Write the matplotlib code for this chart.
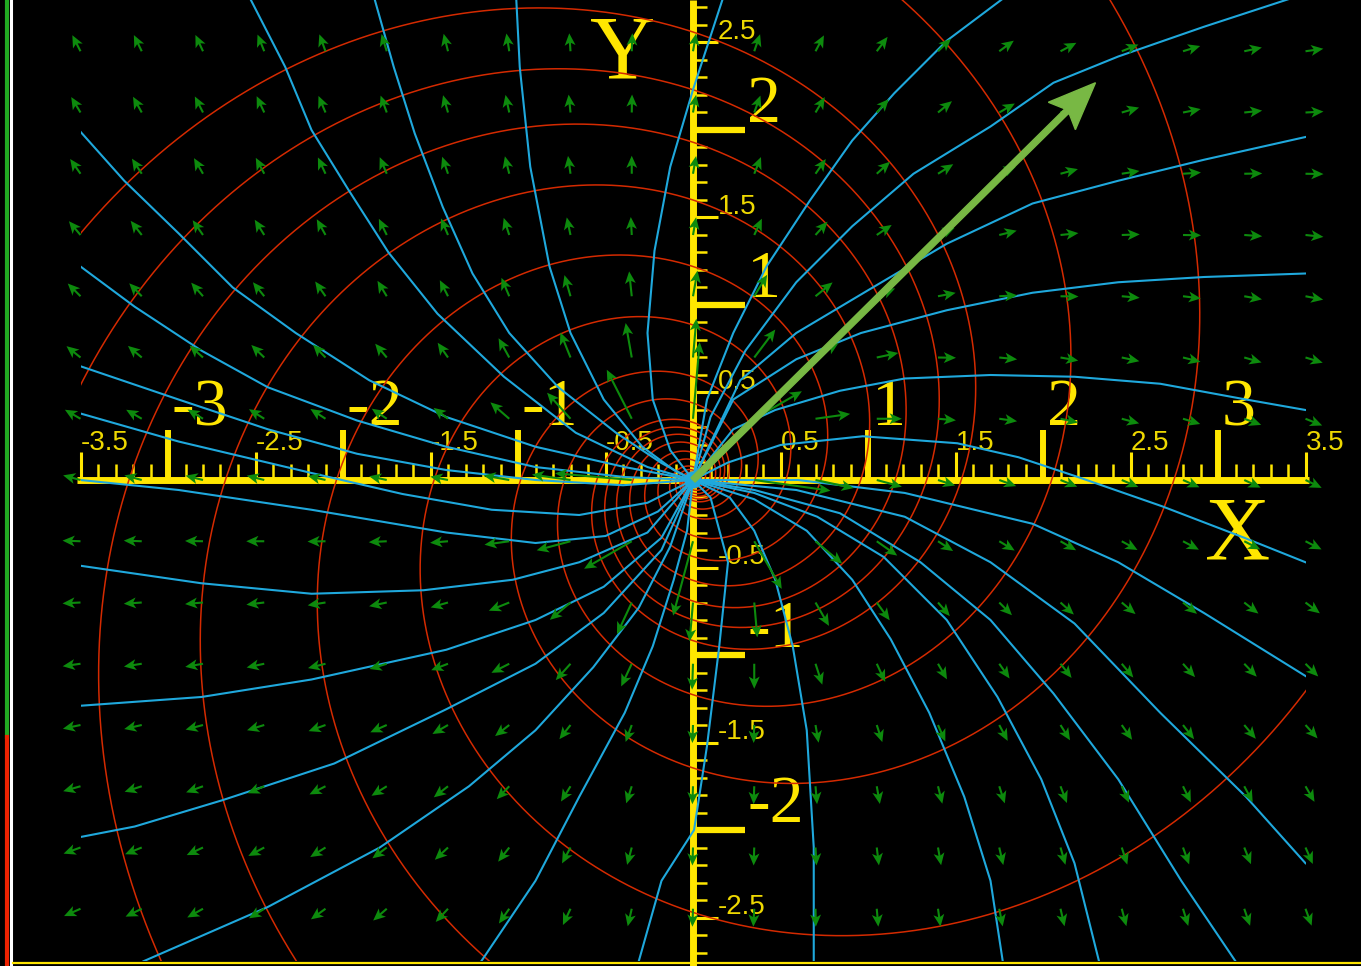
import numpy as np
import matplotlib.pyplot as plt
from matplotlib.patches import Rectangle, Circle

# screenshot geometry: 175 px per unit, origin at pixel (693, 480)
W, H = 1361, 966
PX = 175.0
OX, OY = 693, 480

# region covered by the field drawing
x_min, x_max = -3.5, 3.5
y_min, y_max = -2.75, 2.75

# red wavefronts: 8 log-spiral arms, radius where each arm crosses the +y axis
arm_r90 = [2.56, 2.23, 1.93, 1.60, 1.22, 0.886, 0.59, 0.44]
arm_growth = 1.67  # radius ratio per quarter turn

# cyan field lines, traced from the border in to the charge at the origin
field_lines = [
    [(-2.53, 2.75), (-2.33, 2.36), (-2.18, 2.0), (-1.97, 1.66), (-1.74, 1.30), (-1.46, 0.95), (-1.08, 0.59), (-0.67, 0.27), (-0.26, 0.074), (0, 0)],
    [(-1.82, 2.75), (-1.71, 2.36), (-1.59, 1.98), (-1.43, 1.56), (-1.26, 1.18), (-1.05, 0.84), (-0.77, 0.53), (-0.44, 0.27), (-0.18, 0.097), (0, 0)],
    [(-1.01, 2.75), (-0.99, 2.36), (-0.93, 1.79), (-0.82, 1.22), (-0.70, 0.84), (-0.51, 0.46), (-0.29, 0.19), (-0.11, 0.057), (0, 0)],
    [(0.17, 2.75), (0.0, 2.23), (-0.13, 1.79), (-0.22, 1.31), (-0.26, 0.84), (-0.23, 0.46), (-0.13, 0.17), (0, 0)],
    [(1.77, 2.75), (1.45, 2.51), (1.15, 2.21), (0.91, 1.94), (0.67, 1.60), (0.42, 1.22), (0.23, 0.84), (0.08, 0.46), (0, 0)],
    [(3.41, 2.75), (2.92, 2.59), (2.43, 2.42), (2.06, 2.27), (1.70, 2.02), (1.26, 1.75), (0.91, 1.45), (0.59, 1.13), (0.30, 0.74), (0.10, 0.36), (0, 0)],
    [(3.5, 1.96), (2.92, 1.83), (2.43, 1.71), (1.94, 1.58), (1.45, 1.35), (1.01, 1.09), (0.59, 0.84), (0.27, 0.57), (0, 0)],
    [(3.5, 1.18), (2.92, 1.16), (2.43, 1.13), (1.94, 1.07), (1.45, 0.97), (0.96, 0.84), (0.59, 0.69), (0.23, 0.46), (0, 0)],
    [(3.5, 0.40), (3.16, 0.46), (2.67, 0.55), (2.18, 0.59), (1.70, 0.60), (1.21, 0.58), (0.84, 0.51), (0.47, 0.40), (0.23, 0.29), (0, 0)],
    [(3.5, -0.47), (3.15, -0.33), (2.68, -0.15), (2.2, 0.017), (1.86, 0.13), (1.51, 0.21), (0.97, 0.25), (0.5, 0.2), (0.2, 0.1), (0, 0)],
    [(3.5, -1.12), (2.92, -0.76), (2.43, -0.47), (1.94, -0.25), (1.21, -0.074), (0.6, 0.0), (0, 0)],
    [(3.5, -2.19), (3.16, -1.81), (2.67, -1.33), (2.18, -0.82), (1.70, -0.47), (1.21, -0.21), (0.59, -0.057), (0, 0)],
    [(3.10, -2.75), (2.79, -2.29), (2.43, -1.71), (2.06, -1.22), (1.70, -0.80), (1.30, -0.47), (0.84, -0.19), (0.35, -0.057), (0, 0)],
    [(2.32, -2.75), (2.18, -2.19), (1.99, -1.71), (1.74, -1.24), (1.45, -0.80), (1.09, -0.44), (0.71, -0.21), (0.35, -0.074), (0, 0)],
    [(1.77, -2.75), (1.70, -2.29), (1.55, -1.81), (1.35, -1.33), (1.13, -0.91), (0.91, -0.57), (0.65, -0.29), (0.35, -0.11), (0, 0)],
    [(0.69, -2.75), (0.69, -2.10), (0.65, -1.43), (0.57, -0.95), (0.47, -0.57), (0.35, -0.29), (0.21, -0.10), (0, 0)],
    [(-0.31, -2.75), (-0.18, -2.29), (0.006, -2.0), (0.08, -1.52), (0.15, -0.95), (0.2, -0.47), (0.1, -0.1), (0, 0)],
    [(-1.21, -2.75), (-0.90, -2.29), (-0.65, -1.81), (-0.39, -1.33), (-0.23, -0.95), (-0.11, -0.57), (-0.034, -0.29), (0, 0)],
    [(-3.14, -2.75), (-2.43, -2.44), (-1.79, -2.10), (-1.28, -1.75), (-0.90, -1.43), (-0.57, -1.07), (-0.31, -0.73), (-0.13, -0.38), (0, 0)],
    [(-3.5, -2.04), (-3.19, -1.98), (-2.69, -1.83), (-2.05, -1.62), (-1.41, -1.31), (-0.90, -1.05), (-0.51, -0.76), (-0.18, -0.40), (0, 0)],
    [(-3.5, -1.29), (-2.81, -1.24), (-2.18, -1.14), (-1.41, -0.97), (-0.90, -0.80), (-0.51, -0.61), (-0.18, -0.33), (0, 0)],
    [(-3.5, -0.49), (-2.81, -0.59), (-2.18, -0.65), (-1.54, -0.63), (-1.03, -0.57), (-0.65, -0.47), (-0.26, -0.30), (0, 0)],
    [(-3.5, 0.0), (-2.94, -0.057), (-2.18, -0.17), (-1.41, -0.30), (-0.9, -0.36), (-0.5, -0.32), (-0.2, -0.18), (0, 0)],
    [(-3.5, 0.38), (-2.94, 0.22), (-2.18, 0.04), (-1.66, -0.08), (-1.15, -0.17), (-0.65, -0.2), (-0.26, -0.13), (0, 0)],
    [(-3.5, 0.65), (-2.94, 0.46), (-2.43, 0.29), (-1.92, 0.15), (-1.41, 0.057), (-0.9, 0.0), (-0.4, -0.03), (0, 0)],
    [(-3.5, 1.22), (-3.19, 0.99), (-2.81, 0.74), (-2.43, 0.53), (-1.92, 0.34), (-1.41, 0.19), (-0.90, 0.074), (-0.39, 0.017), (0, 0)],
    [(-3.5, 1.99), (-3.25, 1.71), (-2.94, 1.41), (-2.63, 1.10), (-2.27, 0.84), (-1.85, 0.57), (-1.41, 0.36), (-0.90, 0.19), (-0.39, 0.074), (0, 0)],
]

# green field arrows on a 0.35 grid: x from -3.5 to 3.5, rows from y=2.45 down to y=-2.45
grid_x = np.round(np.arange(-10, 11) * 0.35, 2)
grid_y = np.round(np.arange(7, -8, -1) * 0.35, 2)
arrow_deg = [
    [117, 116, 115, 112, 110, 107, 104, 99, 94, 88, 80, 71, 62, 53, 44, 36, 28, 22, 17, 12, 8],
    [121, 119, 117, 115, 113, 110, 106, 102, 96, 89, 80, 70, 59, 48, 39, 30, 23, 16, 11, 6, 3],
    [125, 123, 120, 118, 115, 113, 109, 104, 98, 90, 80, 68, 55, 42, 32, 23, 15, 9, 4, 1, -1],
    [130, 128, 125, 122, 119, 116, 113, 108, 102, 93, 80, 65, 48, 34, 23, 14, 6, 2, -1, -4, -6],
    [135, 134, 131, 129, 125, 121, 117, 113, 106, 96, 80, 59, 39, 23, 11, 3, -1, -5, -7, -10, -11],
    [141, 140, 138, 136, 134, 130, 125, 119, 112, 100, 85, 53, 32, 12, -1, -6, -10, -12, -14, -16, -17],
    [150, 150, 149, 148, 147, 146, 143, 139, 132, 117, 85, 30, 8, 0, -5, -8, -12, -15, -17, -20, -22],
    [165, 165, 166, 166, 167, 168, 169, 170, 172, 175, 0, -8, -12, -15, -18, -20, -22, -23, -24, -25, -26],
    [178, 178, 179, 180, 181, 183, 185, 188, 195, 210, -105, -60, -40, -35, -33, -31, -30, -29, -28, -27, -27],
    [183, 184, 185, 187, 189, 192, 196, 202, 220, 245, 265, -85, -60, -54, -49, -45, -42, -40, -39, -38, -37],
    [188, 189, 190, 192, 194, 197, 201, 207, 228, 245, 268, -90, -72, -65, -60, -55, -52, -50, -48, -46, -45],
    [192, 193, 195, 197, 200, 204, 210, 218, 232, 250, 268, -92, -80, -72, -66, -62, -58, -55, -52, -50, -48],
    [196, 198, 200, 203, 207, 212, 218, 226, 238, 252, 268, -92, -85, -80, -76, -72, -69, -66, -64, -62, -60],
    [200, 202, 205, 208, 212, 217, 223, 232, 242, 255, 268, -92, -87, -83, -80, -77, -74, -72, -70, -68, -66],
    [204, 206, 209, 212, 216, 221, 227, 235, 245, 257, 268, -93, -89, -85, -82, -79, -77, -75, -73, -71, -70],
]
# arrow length in px, by grid steps from the charge (|dx|, |dy|) sorted; all others are 18 px
near_len_px = {(0, 1): 77, (1, 1): 55, (0, 2): 39, (1, 2): 35, (2, 2): 27,
               (0, 3): 26, (1, 3): 25, (2, 3): 22, (3, 3): 20}
far_len_px = 18

# axis ticks and labels
x_major = [-3, -2, -1, 1, 2, 3]
y_major = [-2, -1, 1, 2]
x_half = [-3.5, -2.5, -1.5, -0.5, 0.5, 1.5, 2.5, 3.5]
y_half = [-2.5, -1.5, -0.5, 0.5, 1.5, 2.5]

# velocity arrow tip
vel_x, vel_y = 2.30, 2.27

yellow = '#ffe600'
yellow_dim = '#eed800'
red = '#d42a00'
cyan = '#1fa8dc'
quiver_green = '#0d8a0d'
arrow_green = '#78b844'


def px_x(p):
    return (p - OX) / PX


def px_y(p):
    return (OY - p) / PX


fig = plt.figure(figsize=(W / 100, H / 100), dpi=100, facecolor='black')
ax = fig.add_axes([0, 0, 1, 1])
ax.set_facecolor('black')
ax.set_xlim(px_x(0), px_x(W))
ax.set_ylim(px_y(H), px_y(0))
ax.axis('off')

# yellow axes with ticks
ax.plot([-3.52, 3.52], [0, 0], color=yellow, lw=5, solid_capstyle='butt', zorder=1)
ax.plot([0, 0], [px_y(H), px_y(0)], color=yellow, lw=5, solid_capstyle='butt', zorder=1)

x_minor = np.round(np.arange(-3.5, 3.51, 0.1), 2)
ax.vlines(x_minor, 0, 0.09, color=yellow, lw=1.8, zorder=1)
ax.vlines(x_half, 0, 0.16, color=yellow, lw=2.2, zorder=1)
ax.vlines(x_major, 0, 0.286, color=yellow, lw=4.3, zorder=1)
y_minor = np.round(np.arange(-2.7, 2.71, 0.1), 2)
ax.hlines(y_minor, 0, 0.08, color=yellow, lw=1.8, zorder=1)
ax.hlines(y_half, 0, 0.143, color=yellow, lw=2.2, zorder=1)
ax.hlines(y_major, 0, 0.297, color=yellow, lw=4.5, zorder=1)

serif = 'Liberation Serif'
for v in x_major:
    ax.text(v + 0.02, 0.314, str(v), color=yellow, fontsize=49, family=serif,
            ha='left', va='baseline', zorder=1)
for v in y_major:
    ax.text(0.31, v + 0.045, str(v), color=yellow, fontsize=49, family=serif,
            ha='left', va='baseline', zorder=1)
for v in x_half:
    ax.text(v, 0.171, str(v), color=yellow_dim, fontsize=20, family='Liberation Sans',
            ha='left', va='baseline', zorder=1)
for v in y_half:
    ax.text(0.143, v + 0.02, str(v), color=yellow_dim, fontsize=20, family='Liberation Sans',
            ha='left', va='baseline', zorder=1)
ax.text(3.114, -0.457, 'X', color=yellow, fontsize=65, family=serif,
        ha='center', va='baseline', zorder=1)
ax.text(-0.40, 2.297, 'Y', color=yellow, fontsize=65, family=serif,
        ha='center', va='baseline', zorder=1)

clip = Rectangle((x_min, y_min), x_max - x_min, y_max - y_min, transform=ax.transData)

# red spiral wavefronts
q = np.linspace(-12, 6, 9000)
theta = np.pi / 2 * (1 + q)
for r90 in arm_r90:
    r = r90 * arm_growth ** q
    ln, = ax.plot(r * np.cos(theta), r * np.sin(theta), color=red, lw=1.1, zorder=2)
    ln.set_clip_path(clip)

# cyan field lines
for line in field_lines:
    xs, ys = zip(*line)
    ln, = ax.plot(xs, ys, color=cyan, lw=1.5, zorder=2)
    ln.set_clip_path(clip)

# green field arrows
GX, GY = np.meshgrid(grid_x, grid_y)
ang = np.radians(np.array(arrow_deg, dtype=float))
length = np.full(GX.shape, far_len_px / PX)
for j in range(GX.shape[0]):
    for i in range(GX.shape[1]):
        key = tuple(sorted((abs(i - 10), abs(7 - j))))
        if key == (0, 0):
            length[j, i] = np.nan
        elif key in near_len_px:
            length[j, i] = near_len_px[key] / PX
ax.quiver(GX, GY, length * np.cos(ang), length * np.sin(ang), angles='xy',
          scale_units='xy', scale=1, units='xy', width=0.012, headwidth=5.2,
          headlength=5.8, headaxislength=4.6, pivot='tail', color=quiver_green, zorder=3)

# charge and velocity
ax.add_patch(Circle((0, 0), 0.045, color=cyan, zorder=4))
ax.arrow(0, 0, vel_x, vel_y, width=0.034, head_width=0.22, head_length=0.27,
         overhang=0.15, length_includes_head=True, color=arrow_green, zorder=5)

# frame decorations of the screenshot
ax.plot([px_x(7), px_x(7)], [px_y(0), px_y(737)], color='#22aa22', lw=3, zorder=1)
ax.plot([px_x(7), px_x(7)], [px_y(737), px_y(H)], color='#ee2200', lw=3, zorder=1)
ax.plot([px_x(11), px_x(11)], [px_y(0), px_y(H)], color='white', lw=2.2, zorder=1)
ax.plot([px_x(13), px_x(W)], [px_y(963), px_y(963)], color=yellow, lw=1.6, zorder=1)

fig.savefig('out.png', dpi=100, facecolor='black')
